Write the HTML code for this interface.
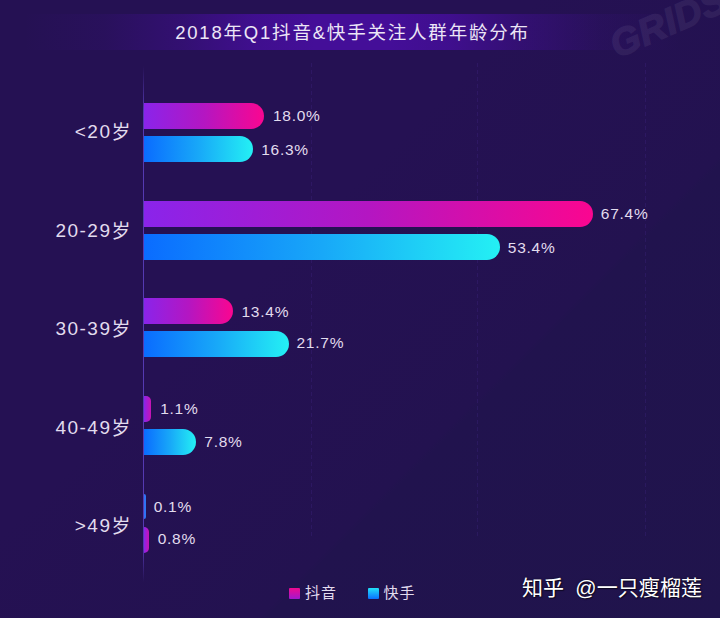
<!DOCTYPE html>
<html lang="zh">
<head>
<meta charset="utf-8">
<title>2018年Q1抖音&amp;快手关注人群年龄分布</title>
<style>
html,body{margin:0;padding:0;}
body{width:720px;height:618px;overflow:hidden;background:#241252;font-family:"Liberation Sans","Noto Sans CJK SC",sans-serif;color:#e2dcee;}
#c{position:relative;width:720px;height:618px;overflow:hidden;background:#241252;}
.shade{position:absolute;left:0;top:0;width:720px;height:618px;background:linear-gradient(135deg,#251153 0%,#251153 40%,#231250 65.5%,#21134e 66.1%,#20144c 100%);}
.band{position:absolute;left:24px;top:14px;width:656px;height:36px;background:linear-gradient(90deg,rgba(68,14,152,0) 0px,rgba(68,14,152,.13) 80px,rgba(68,14,152,.45) 160px,rgba(68,14,152,.85) 230px,#440e98 290px,#440e98 366px,rgba(68,14,152,.85) 426px,rgba(68,14,152,.45) 496px,rgba(68,14,152,.13) 576px,rgba(68,14,152,0) 656px);}
.title{position:absolute;left:0;top:15px;width:705px;height:36px;line-height:36px;text-align:center;font-size:18.5px;letter-spacing:1.8px;color:#ece6f6;white-space:nowrap;}
.wm{position:absolute;left:619px;top:27px;height:36px;line-height:36px;font-family:"Liberation Sans",sans-serif;font-weight:bold;font-style:italic;font-size:38px;color:#fff;-webkit-text-stroke:1.2px #fff;opacity:.06;transform:rotate(-23.5deg);transform-origin:left bottom;letter-spacing:.5px;white-space:nowrap;}
.axis{position:absolute;left:143px;top:66px;width:1px;height:516px;background:linear-gradient(180deg,rgba(85,58,178,0) 0%,#553ab2 9%,#553ab2 93%,rgba(85,58,178,0) 100%);}
.grid{position:absolute;top:63px;width:1px;height:476px;background:repeating-linear-gradient(180deg,rgba(96,56,190,.15) 0,rgba(96,56,190,.15) 4px,rgba(0,0,0,0) 4px,rgba(0,0,0,0) 7px);}
.bar{position:absolute;left:144px;height:26px;border-radius:0 13px 13px 0;}
.dy{background:linear-gradient(90deg,#8a24ea 0%,#b416c2 50%,#fa0690 100%);}
.ks{background:linear-gradient(90deg,#0a6cff 0%,#18a8f8 50%,#24f0f4 100%);}
.v{position:absolute;font-size:15.5px;letter-spacing:.75px;line-height:26px;height:26px;white-space:nowrap;color:#e2dcee;}
.cat{position:absolute;left:0;width:132px;margin-top:2px;text-align:right;font-size:19px;letter-spacing:1.5px;line-height:30px;height:30px;white-space:nowrap;color:#e2dcee;}
.cat .s{position:relative;top:1px;}
.lg{position:absolute;top:588px;width:11px;height:11px;border-radius:1px;}
.lt{position:absolute;top:582px;line-height:22px;font-size:15px;letter-spacing:1px;color:#e2dcee;white-space:nowrap;}
.zh{position:absolute;left:522px;top:572.5px;font-size:21px;letter-spacing:.08px;word-spacing:5.2px;line-height:30px;color:#fff;white-space:nowrap;text-shadow:0 0 2px rgba(0,0,0,.6),1px 1px 1px rgba(0,0,0,.5);}
</style>
</head>
<body>
<div id="c">
  <div class="shade"></div>
  <div class="band"></div>
  <div class="wm">GRIDS</div>
  <div class="title">2018年Q1抖音&amp;快手关注人群年龄分布</div>

  <div class="grid" style="left:311px"></div>
  <div class="grid" style="left:477px"></div>
  <div class="grid" style="left:645px"></div>
  <div class="axis"></div>

  <!-- group 1 -->
  <div class="cat" style="top:115.45px">&lt;20<span class="s">岁</span></div>
  <div class="bar dy" style="top:103.2px;width:119.9px"></div>
  <div class="v" style="top:102.70px;left:272.9px">18.0%</div>
  <div class="bar ks" style="top:135.8px;width:108.6px"></div>
  <div class="v" style="top:136.90px;left:261.2px">16.3%</div>

  <!-- group 2 -->
  <div class="cat" style="top:213.55px">20-29<span class="s">岁</span></div>
  <div class="bar dy" style="top:200.6px;width:448.9px"></div>
  <div class="v" style="top:201.15px;left:600.8px">67.4%</div>
  <div class="bar ks" style="top:233.7px;width:355.6px"></div>
  <div class="v" style="top:235.15px;left:507.8px">53.4%</div>

  <!-- group 3 -->
  <div class="cat" style="top:312.25px">30-39<span class="s">岁</span></div>
  <div class="bar dy" style="top:298.2px;width:89.2px"></div>
  <div class="v" style="top:299.40px;left:241.5px">13.4%</div>
  <div class="bar ks" style="top:330.8px;width:144.5px"></div>
  <div class="v" style="top:330.10px;left:296.5px">21.7%</div>

  <!-- group 4 -->
  <div class="cat" style="top:410.65px">40-49<span class="s">岁</span></div>
  <div class="bar dy" style="top:396.0px;width:7.3px;height:25.5px;border-radius:0 5px 5px 0;background:linear-gradient(90deg,#8a24ea,#c813b4)"></div>
  <div class="v" style="top:396.25px;left:160.2px">1.1%</div>
  <div class="bar ks" style="top:429.0px;width:51.9px"></div>
  <div class="v" style="top:428.60px;left:204.3px">7.8%</div>

  <!-- group 5 -->
  <div class="cat" style="top:509.15px">&gt;49<span class="s">岁</span></div>
  <div class="bar ks" style="top:494.2px;width:2.0px;height:25px;border-radius:0 2px 2px 0;background:#2f74f4"></div>
  <div class="v" style="top:494.15px;left:153.7px">0.1%</div>
  <div class="bar dy" style="top:527.0px;width:5.3px;height:25.5px;border-radius:0 5px 5px 0;background:linear-gradient(90deg,#8a24ea,#c813b4)"></div>
  <div class="v" style="top:525.90px;left:157.7px">0.8%</div>

  <!-- legend -->
  <div class="lg" style="left:289px;background:linear-gradient(180deg,#f00a90,#a018d0)"></div>
  <div class="lt" style="left:305px">抖音</div>
  <div class="lg" style="left:368px;background:linear-gradient(180deg,#22e0f8,#0a70ff)"></div>
  <div class="lt" style="left:383.5px">快手</div>

  <div class="zh">知乎 @一只瘦榴莲</div>
</div>
</body>
</html>
